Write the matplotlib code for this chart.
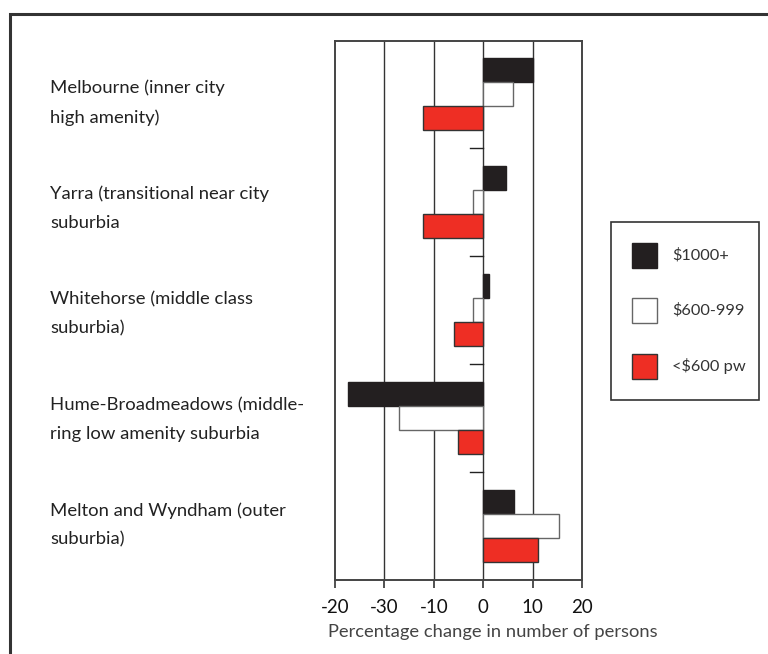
import matplotlib

matplotlib.use("Agg")

import matplotlib.pyplot as plt
import numpy as np
from matplotlib.patches import Rectangle

# values (percentage change in number of persons)
regions = [
    "Melbourne (inner city\nhigh amenity)",
    "Yarra (transitional near city\nsuburbia",
    "Whitehorse (middle class\nsuburbia)",
    "Hume-Broadmeadows (middle-\nring low amenity suburbia",
    "Melton and Wyndham (outer\nsuburbia)",
]
series_names = ["$1000+", "$600-999", "<$600 pw"]
high_income = [10.0, 4.7, 1.2, -27.3, 6.3]
mid_income = [6.1, -2.0, -2.0, -17.1, 15.4]
low_income = [-12.1, -12.1, -6.0, -5.1, 11.0]

tick_values = [-30, -20, -10, 0, 10, 20]
tick_labels = ["-20", "-30", "-10", "0", "10", "20"]

RED = "#ee2e24"
BLACK = "#231f20"

plt.rcParams["font.family"] = ["Lato", "DejaVu Sans"]

fig = plt.figure(figsize=(7.68, 6.54), dpi=100)
fig.patch.set_facecolor("white")

# outer frame running off the right and bottom edges
fig.patches.append(Rectangle((10 / 768, -0.05), 1.1, (654 - 14) / 654 + 0.05,
                             transform=fig.transFigure, fill=False,
                             edgecolor="#333333", linewidth=2.2))

ax = fig.add_axes([335 / 768, (654 - 580) / 654, 247 / 768, 539 / 654])

y = np.arange(len(regions))
h = 0.222
styles = [
    (high_income, BLACK, BLACK),
    (mid_income, "white", "#666666"),
    (low_income, RED, "#333333"),
]
for k, (vals, face, edge) in enumerate(styles):
    ax.barh(y + (k - 1) * h, vals, height=h, color=face, edgecolor=edge,
            linewidth=1.0, zorder=3)

# small separators at zero between the groups
for sep in y[:-1] + 0.5:
    ax.plot([-2.6, 0], [sep, sep], color="#222222", linewidth=1.0, zorder=3)

for v in tick_values[1:-1]:
    ax.axvline(v, color="#333333", linewidth=1.0, zorder=1)

ax.set_xlim(-30, 20)
ax.set_ylim(4.5, -0.49)
ax.set_xticks(tick_values)
ax.set_xticklabels(tick_labels, fontsize=13.5, color="#111111")
ax.set_yticks([])
ax.tick_params(axis="x", direction="out", length=6, width=1.2,
               color="#333333", pad=8)
for spine in ax.spines.values():
    spine.set_color("#444444")
    spine.set_linewidth(1.4)
ax.set_xlabel("Percentage change in number of persons", fontsize=13.2,
              color="#444444")
ax.xaxis.set_label_coords(0.64, -0.082)

# region labels on the left
for i, name in enumerate(regions):
    yc = 654 - (103 + 105.5 * i)
    fig.text(50 / 768, yc / 654, name, ha="left", va="center", fontsize=13.3,
             color="#222222", linespacing=1.98)

# legend box
fig.patches.append(Rectangle((611 / 768, (654 - 400) / 654), 148 / 768, 178 / 654,
                             transform=fig.transFigure, fill=False,
                             edgecolor="#333333", linewidth=1.2))
leg_rows = [255, 310, 366]
leg_faces = [BLACK, "white", RED]
leg_edges = [BLACK, "#666666", "#333333"]
for row, face, edge, name in zip(leg_rows, leg_faces, leg_edges, series_names):
    fig.patches.append(Rectangle((632 / 768, (654 - row - 12.5) / 654), 25 / 768, 25 / 654,
                                 transform=fig.transFigure, facecolor=face,
                                 edgecolor=edge, linewidth=1.0))
    fig.text(672 / 768, (654 - row) / 654, name, ha="left", va="center",
             fontsize=11.8, color="#333333")

fig.savefig("out.png", dpi=100, facecolor="white")
